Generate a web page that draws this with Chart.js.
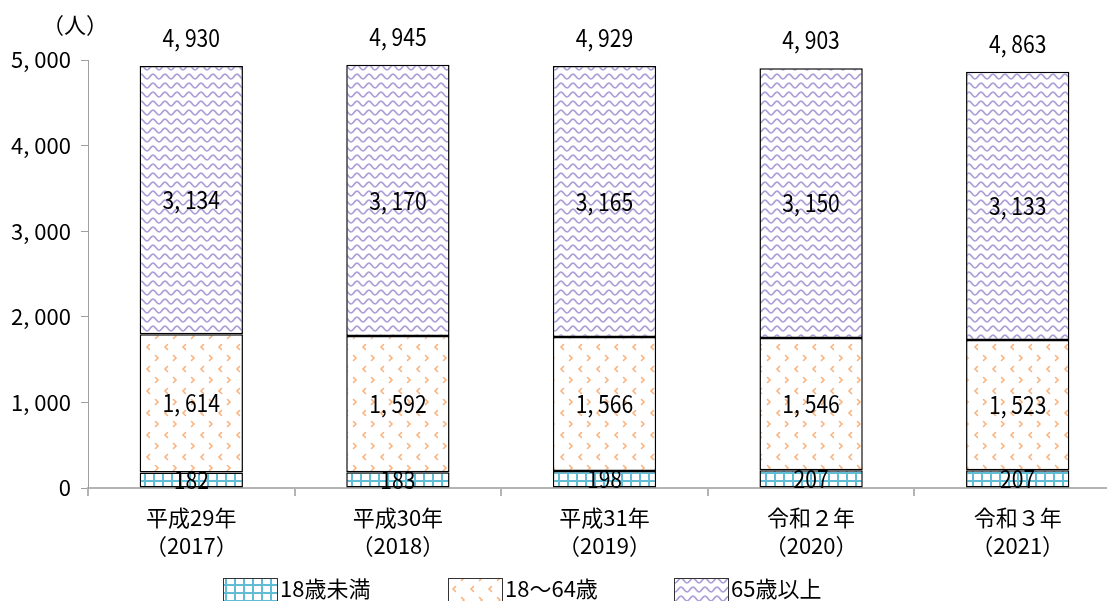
<!DOCTYPE html>
<html lang="ja">
<head>
<meta charset="UTF-8">
<title>年齢別の推移</title>
<script src="https://cdn.jsdelivr.net/npm/chart.js"></script>
<style>
  html, body { margin: 0; padding: 0; background: #fff; overflow: hidden; }
</style>
</head>
<body>
<canvas id="myChart" width="1122" height="601"></canvas>
<script>
const years = [
  ["平成29年", "（2017）"],
  ["平成30年", "（2018）"],
  ["平成31年", "（2019）"],
  ["令和２年", "（2020）"],
  ["令和３年", "（2021）"]
];
const under18 = [182, 183, 198, 207, 207];
const age18to64 = [1614, 1592, 1566, 1546, 1523];
const over65 = [3134, 3170, 3165, 3150, 3133];
const totals = [4930, 4945, 4929, 4903, 4863];
const seriesNames = ["18歳未満", "18～64歳", "65歳以上"];
const yTicks = [0, 1000, 2000, 3000, 4000, 5000];

const FONT = '"Noto Sans CJK JP", sans-serif';

const fmt = (v) => v.toLocaleString("en-US").replace(",", ", ");

// fill patterns
function makePattern(w, h, draw) {
  const c = document.createElement("canvas");
  c.width = w; c.height = h;
  const g = c.getContext("2d");
  g.fillStyle = "#fff";
  g.fillRect(0, 0, w, h);
  draw(g);
  return document.getElementById("myChart").getContext("2d").createPattern(c, "repeat");
}

const gridFill = makePattern(9, 8, (g) => {
  g.fillStyle = "#62bcd6";
  g.fillRect(0, 0, 9, 2);
  g.fillRect(0, 0, 2, 8);
});

const chevronFill = makePattern(18, 22, (g) => {
  g.strokeStyle = "#fbb27c";
  g.lineWidth = 1.6;
  g.lineCap = "round";
  g.beginPath();
  g.moveTo(11.5, 3.5); g.lineTo(14, 6); g.lineTo(11.5, 8.5);  // >
  g.moveTo(5.5, 14.5); g.lineTo(3, 17); g.lineTo(5.5, 19.5);  // <
  g.stroke();
});

const waveFill = makePattern(12, 9, (g) => {
  g.strokeStyle = "#ad9fd8";
  g.lineWidth = 1.7;
  g.beginPath();
  for (let x = -1; x <= 13; x += 0.5) {
    const y = 4.5 + 2.3 * Math.sin((x / 12) * Math.PI * 2);
    if (x === -1) g.moveTo(x, y); else g.lineTo(x, y);
  }
  g.stroke();
});

const fills = [gridFill, chevronFill, waveFill];

function narrowText(ctx, text, x, y) {
  ctx.save();
  ctx.translate(x, y);
  ctx.scale(0.88, 1);
  ctx.fillText(text, 0, 0);
  ctx.restore();
}

// numbers inside each segment, totals on top, unit and legend
const labelsPlugin = {
  id: "labelsPlugin",
  afterDraw(chart) {
    const ctx = chart.ctx;
    ctx.save();
    ctx.font = `24px ${FONT}`;
    ctx.fillStyle = "#000";
    ctx.textAlign = "center";
    ctx.textBaseline = "middle";
    chart.data.datasets.forEach((ds, i) => {
      chart.getDatasetMeta(i).data.forEach((bar, j) => {
        narrowText(ctx, fmt(ds.data[j]), bar.x, (bar.y + bar.base) / 2);
      });
    });
    const yScale = chart.scales.y;
    chart.getDatasetMeta(2).data.forEach((bar, j) => {
      narrowText(ctx, fmt(totals[j]), bar.x, yScale.getPixelForValue(totals[j]) - 28);
    });
    ctx.font = `22px ${FONT}`;
    ctx.fillText("（人）", 75, 25);

    // legend
    ctx.textAlign = "left";
    const starts = [223, 448, 674];
    seriesNames.forEach((name, i) => {
      const x = starts[i];
      ctx.fillStyle = fills[i];
      ctx.fillRect(x, 578, 54, 30);
      ctx.strokeStyle = "#333";
      ctx.lineWidth = 1;
      ctx.strokeRect(x + 0.5, 578.5, 54, 30);
      ctx.fillStyle = "#000";
      ctx.fillText(name, x + 57, 589);
    });
    ctx.restore();
  }
};

const ctx = document.getElementById("myChart").getContext("2d");
const myChart = new Chart(ctx, {
  type: "bar",
  data: {
    labels: years,
    datasets: [
      { label: seriesNames[0], data: under18, backgroundColor: gridFill },
      { label: seriesNames[1], data: age18to64, backgroundColor: chevronFill },
      { label: seriesNames[2], data: over65, backgroundColor: waveFill }
    ].map((d) => ({ ...d, borderColor: "#000", borderWidth: 1.5, borderSkipped: false, barPercentage: 0.5, categoryPercentage: 1 }))
  },
  options: {
    responsive: false,
    animation: false,
    layout: { padding: { top: 60, right: 1, left: 0, bottom: 0 } },
    plugins: { legend: { display: false }, tooltip: { enabled: false } },
    scales: {
      x: {
        stacked: true,
        grid: { drawOnChartArea: false, tickLength: 8, color: "#b4b4b4", lineWidth: 2 },
        border: { color: "#b4b4b4", width: 2 },
        ticks: { color: "#000", font: { family: FONT, size: 22, lineHeight: 1.27 }, padding: 8, maxRotation: 0 },
        afterFit(s) { s.height = 113; }
      },
      y: {
        stacked: true,
        min: 0,
        max: 5000,
        afterBuildTicks(s) { s.ticks = yTicks.map((v) => ({ value: v })); },
        ticks: { color: "#000", font: { family: FONT, size: 22 }, padding: 10, callback: (v) => fmt(v) },
        grid: { drawOnChartArea: false, tickLength: 7, color: "#a0a0a0" },
        border: { color: "#a0a0a0" },
        afterFit(s) { s.width = 88; }
      }
    }
  },
  plugins: [labelsPlugin]
});
</script>
</body>
</html>
